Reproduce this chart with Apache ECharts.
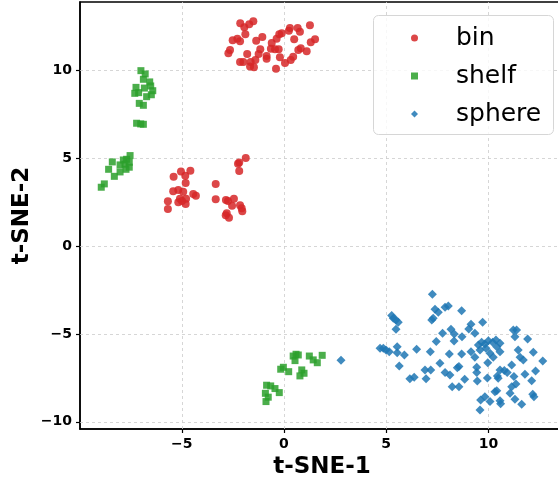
<!DOCTYPE html>
<html>
<head>
<meta charset="utf-8">
<script src="https://cdn.jsdelivr.net/npm/echarts@6/dist/echarts.min.js"></script>
<style>html,body{margin:0;padding:0;background:#fff}#c{width:558px;height:481px}</style>
</head>
<body>
<div id="c"></div>
<script>
const xTicks = [-5, 0, 5, 10];
const yTicks = [-10, -5, 0, 5, 10];

const binPoints = [
  [-2.14,12.66],[-1.94,12.44],[-1.70,12.61],[-1.50,12.78],[-1.89,12.04],[-2.51,11.70],[-2.28,11.79],[-2.15,11.64],
  [-1.36,11.67],[-1.06,11.89],[-0.60,11.54],[-0.36,11.79],[-0.23,12.04],[-0.11,12.10],[0.24,12.24],[0.29,12.40],
  [0.67,12.40],[0.78,12.19],[1.27,12.55],[0.50,11.75],[1.52,11.75],[1.31,11.58],[1.11,11.07],[0.82,11.24],
  [0.70,11.15],[0.45,10.76],[0.33,10.58],[0.05,10.41],[-0.20,10.73],[-0.39,10.08],[-0.26,11.19],[-0.44,11.19],
  [-0.64,11.22],[-0.85,10.80],[-0.85,10.65],[-1.16,11.19],[-1.24,10.92],[-1.40,10.58],[-1.63,10.46],[-1.80,10.92],
  [-1.99,10.46],[-2.15,10.46],[-1.66,10.20],[-1.47,10.16],[-2.64,11.15],[-2.72,10.96],
  [-5.40,3.94],[-5.04,4.23],[-4.83,4.00],[-4.58,4.28],[-4.81,3.58],[-5.42,3.11],[-5.17,3.18],[-4.93,3.09],
  [-5.09,2.69],[-4.79,2.69],[-5.17,2.49],[-4.81,2.39],[-5.68,2.54],[-5.68,2.10],[-4.44,2.96],[-4.31,2.86],[-4.99,2.56],
  [-1.87,5.00],[-2.19,4.74],[-2.25,4.68],[-2.19,4.26],[-3.34,3.53],[-3.34,2.66],[-2.84,2.62],[-2.74,2.56],
  [-2.45,2.69],[-2.54,2.29],[-2.15,2.31],[-2.07,2.14],[-2.04,1.97],[-2.80,1.86],[-2.85,1.75],[-2.69,1.61]
];

const shelfPoints = [
  [-7.00,9.97],[-6.79,9.78],[-6.88,9.48],[-6.57,9.33],[-6.52,9.10],[-7.24,9.02],[-6.83,8.98],[-6.42,8.83],
  [-7.30,8.68],[-7.11,8.72],[-6.49,8.60],[-6.72,8.49],[-7.08,8.11],[-6.88,8.00],[-7.21,6.98],[-6.88,6.92],[-7.01,6.94],
  [-7.53,5.14],[-7.70,4.93],[-7.86,4.89],[-7.57,4.76],[-7.78,4.65],[-8.02,4.61],[-8.40,4.78],[-7.57,4.48],
  [-7.73,4.36],[-8.02,4.21],[-8.58,4.36],[-8.30,3.96],[-8.79,3.53],[-8.94,3.34],
  [0.59,-6.16],[0.45,-6.26],[0.70,-6.20],[0.54,-6.52],[1.24,-6.26],[1.43,-6.48],[1.63,-6.64],[1.87,-6.22],
  [-0.03,-6.90],[0.23,-7.15],[-0.16,-7.01],[0.87,-7.05],[0.98,-7.24],[0.78,-7.39],[-0.85,-7.92],[-0.65,-7.96],
  [-0.44,-8.11],[-0.23,-8.34],[-0.91,-8.38],[-0.77,-8.60],[-0.88,-8.85]
];

const spherePoints = [
  [2.79,-6.50],[7.26,-2.75],[5.27,-3.96],[5.35,-4.11],[5.48,-4.21],[5.59,-4.34],[5.48,-4.74],
  [7.39,-3.60],[7.55,-3.77],[7.30,-4.11],[7.23,-4.21],[7.88,-3.49],[8.04,-3.41],[8.69,-3.68],[9.72,-4.34],
  [9.15,-4.45],[9.04,-4.72],[8.17,-4.74],[8.33,-5.00],[7.76,-4.96],[8.71,-5.16],[9.34,-4.96],[7.45,-5.44],[8.32,-5.40],
  [4.70,-5.82],[4.86,-5.82],[4.99,-5.91],[5.15,-6.01],[5.54,-5.73],[5.54,-6.07],[5.89,-6.20],[6.49,-5.87],[5.64,-6.82],
  [7.16,-6.01],[8.09,-6.14],[7.63,-6.67],[8.69,-6.14],[9.15,-6.01],[9.34,-6.33],
  [9.51,-5.63],[9.67,-5.48],[9.83,-5.57],[10.00,-5.39],[10.21,-5.48],[10.37,-5.35],[10.57,-5.53],
  [9.59,-5.91],[9.88,-5.82],[10.08,-6.10],[10.24,-6.33],[10.41,-5.73],[10.57,-6.01],[9.97,-6.64],[9.43,-6.90],
  [8.56,-6.86],[8.48,-6.92],[7.88,-7.20],[8.12,-7.34],[7.18,-7.05],[6.90,-7.05],[6.95,-7.55],[6.16,-7.55],[6.37,-7.47],
  [8.84,-7.58],[9.43,-7.20],[9.46,-7.68],[8.23,-8.00],[8.56,-8.00],[9.95,-7.51],
  [10.57,-7.05],[10.78,-7.09],[10.92,-7.20],[10.48,-7.52],[11.14,-6.77],[11.25,-7.43],
  [11.22,-4.78],[11.38,-4.78],[11.30,-5.16],[11.92,-5.29],[11.46,-5.91],[11.55,-6.33],[11.71,-6.48],
  [12.20,-6.05],[12.66,-6.54],[12.31,-7.11],[11.79,-7.30],[12.12,-7.66],
  [11.35,-7.85],[11.14,-8.00],[11.06,-8.38],[11.30,-8.72],[10.41,-8.23],[10.32,-8.29],
  [9.83,-8.57],[9.62,-8.76],[10.08,-8.85],[10.57,-8.80],[10.60,-8.98],[9.59,-9.33],[11.63,-9.00],
  [12.17,-8.43],[12.23,-8.57],[10.44,-7.39]
];

const FONT = 'DejaVu Sans';
const gridLineStyle = { color: '#cccccc', width: 0.8, type: [3, 3] };

const gridLines = [];
xTicks.forEach(v => gridLines.push({ xAxis: v }));
yTicks.forEach(v => gridLines.push({ yAxis: v }));

const fmt = v => (v < 0 ? '\u2212' + Math.abs(v) : String(v));

const chart = echarts.init(document.getElementById('c'), null, { renderer: 'canvas' });
chart.setOption({
  animation: false,
  backgroundColor: '#ffffff',
  grid: {
    left: 80, top: 2, width: 484, height: 427,
    outerBoundsMode: 'none', containLabel: false,
    show: true, borderColor: '#000', borderWidth: 1.5, backgroundColor: 'transparent'
  },
  xAxis: {
    type: 'value', min: -9.98, max: 13.70,
    name: 't-SNE-1', nameLocation: 'middle', nameGap: 27, nameMoveOverlap: false,
    nameTextStyle: { fontFamily: FONT, fontSize: 23, fontWeight: 'bold', color: '#000' },
    axisLine: { show: true, onZero: false, lineStyle: { color: '#000', width: 1.5 } },
    axisTick: { show: true, length: 4, inside: false, customValues: xTicks, lineStyle: { color: '#000', width: 1.2 } },
    axisLabel: { customValues: xTicks, margin: 8, fontFamily: FONT, fontSize: 14, fontWeight: 'bold', color: '#000', formatter: fmt },
    splitLine: { show: false }
  },
  yAxis: {
    type: 'value', min: -10.41, max: 13.875,
    name: 't-SNE-2', nameLocation: 'middle', nameGap: 46, nameMoveOverlap: false,
    nameTextStyle: { fontFamily: FONT, fontSize: 23, fontWeight: 'bold', color: '#000' },
    axisLine: { show: true, onZero: false, lineStyle: { color: '#000', width: 1.5 } },
    axisTick: { show: true, length: 4, inside: false, customValues: yTicks, lineStyle: { color: '#000', width: 1.2 } },
    axisLabel: { customValues: yTicks, margin: 8, fontFamily: FONT, fontSize: 14, fontWeight: 'bold', color: '#000', formatter: fmt },
    splitLine: { show: false }
  },
  legend: {
    orient: 'vertical', left: 406, top: 20, z: 10,
    itemWidth: 7, itemHeight: 7, itemGap: 12,
    textStyle: { fontFamily: FONT, fontSize: 25, color: '#000', lineHeight: 26, padding: [0, 0, 0, 33] },
    data: ['bin', 'shelf', 'sphere']
  },
  graphic: [{
    type: 'rect', left: 373, top: 15, z: 5,
    shape: { width: 180, height: 119, r: 5 },
    style: { fill: 'rgba(255,255,255,0.8)', stroke: '#d6d6d6', lineWidth: 1 },
    silent: true
  }],
  series: [
    {
      name: 'bin', type: 'scatter', symbol: 'circle', symbolSize: 8, z: 3,
      itemStyle: { color: '#d62728', opacity: 0.85 },
      data: binPoints,
      markLine: {
        silent: true, symbol: 'none', z: 1, label: { show: false },
        lineStyle: gridLineStyle, emphasis: { disabled: true },
        data: gridLines
      }
    },
    {
      name: 'shelf', type: 'scatter', symbol: 'rect', symbolSize: 7, z: 3,
      itemStyle: { color: '#2ca02c', opacity: 0.85 },
      data: shelfPoints
    },
    {
      name: 'sphere', type: 'scatter', symbol: 'diamond', symbolSize: 9, z: 3,
      itemStyle: { color: '#1f77b4', opacity: 0.85 },
      data: spherePoints
    }
  ]
});
</script>
</body>
</html>
